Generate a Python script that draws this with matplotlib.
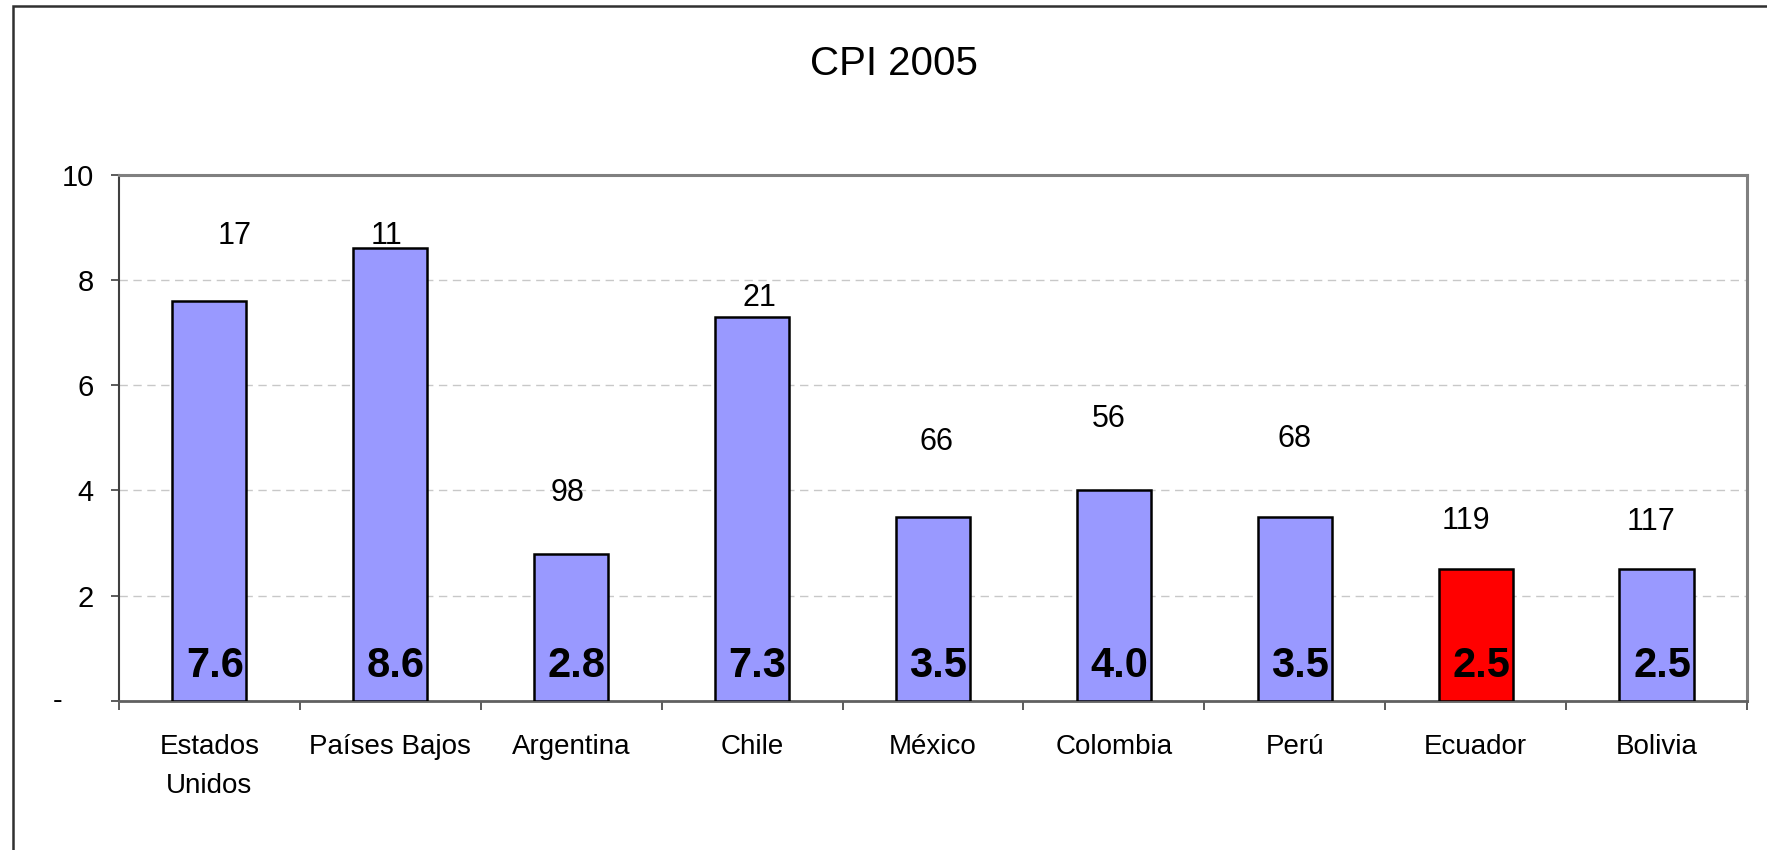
import matplotlib.pyplot as plt
from matplotlib.patches import Rectangle

paises = ["Estados\nUnidos", "Países Bajos", "Argentina", "Chile", "México",
          "Colombia", "Perú", "Ecuador", "Bolivia"]
cpi = [7.6, 8.6, 2.8, 7.3, 3.5, 4.0, 3.5, 2.5, 2.5]
ranking = [17, 11, 98, 21, 66, 56, 68, 119, 117]
# where each ranking label sits
ranking_y = [8.68, 8.68, 3.80, 7.51, 4.76, 5.20, 4.83, 3.27, 3.25]
ranking_dx = [0.14, -0.02, -0.02, 0.04, 0.02, -0.03, 0.0, -0.055, -0.03]
destacado = "Ecuador"

FONT = ["Liberation Sans"]

fig = plt.figure(figsize=(17.67, 8.5), dpi=100)
ax = fig.add_axes([0.0673, 0.1753, 0.9214, 0.6194])

x = list(range(len(paises)))
colores = ["#FF0000" if p == destacado else "#9999FF" for p in paises]
ax.bar(x, cpi, width=0.41, color=colores, edgecolor="black", linewidth=1.8, zorder=3)

for xi, v in zip(x, cpi):
    ax.text(xi + 0.03, 0.46, f"{v:.1f}", ha="center", va="baseline",
            fontsize=30, fontweight="bold", family=FONT, zorder=4)

for xi, r, ry, dx in zip(x, ranking, ranking_y, ranking_dx):
    ax.text(xi + dx, ry, str(r), ha="center", va="baseline", fontsize=22, family=FONT)

ax.set_xlim(-0.5, len(paises) - 0.5)
ax.set_ylim(0, 10)

ax.set_yticks([0, 2, 4, 6, 8, 10])
ax.set_yticklabels(["", "2", "4", "6", "8", "10"], fontsize=21, family=FONT)
ax.tick_params(axis="y", length=6, width=1.2, color="#404040", pad=12)
ax.text(-0.035, 0, "-", transform=ax.get_yaxis_transform(), ha="right",
        va="center", fontsize=21, family=FONT)

ax.set_xticks(x)
ax.set_xticklabels(paises, fontsize=20, family=FONT, linespacing=1.65)
ax.tick_params(axis="x", which="major", length=0, pad=24)
ax.set_xticks([i - 0.5 for i in range(len(paises) + 1)], minor=True)
ax.tick_params(axis="x", which="minor", length=6.5, width=1.2, color="#404040")

ax.yaxis.grid(True, linestyle=(0, (6, 4)), color="#C8C8C8", linewidth=1.0, zorder=0)
ax.set_axisbelow(True)

ax.spines["top"].set_color("#808080")
ax.spines["right"].set_color("#808080")
ax.spines["top"].set_linewidth(2.2)
ax.spines["right"].set_linewidth(2.2)
ax.spines["left"].set_color("#404040")
ax.spines["left"].set_linewidth(1.5)
ax.spines["bottom"].set_color("#606060")
ax.spines["bottom"].set_linewidth(2.0)

fig.text(0.506, 0.9118, "CPI 2005", ha="center", va="baseline",
         fontsize=29, family=FONT)

# outer chart border (runs off the right and bottom edges)
fig.patches.append(Rectangle((13 / 1767, -0.05), 1.1, 1 - 6 / 850 + 0.05,
                             transform=fig.transFigure, fill=False,
                             edgecolor="#303030", linewidth=1.8))

fig.savefig("out.png", dpi=100)
